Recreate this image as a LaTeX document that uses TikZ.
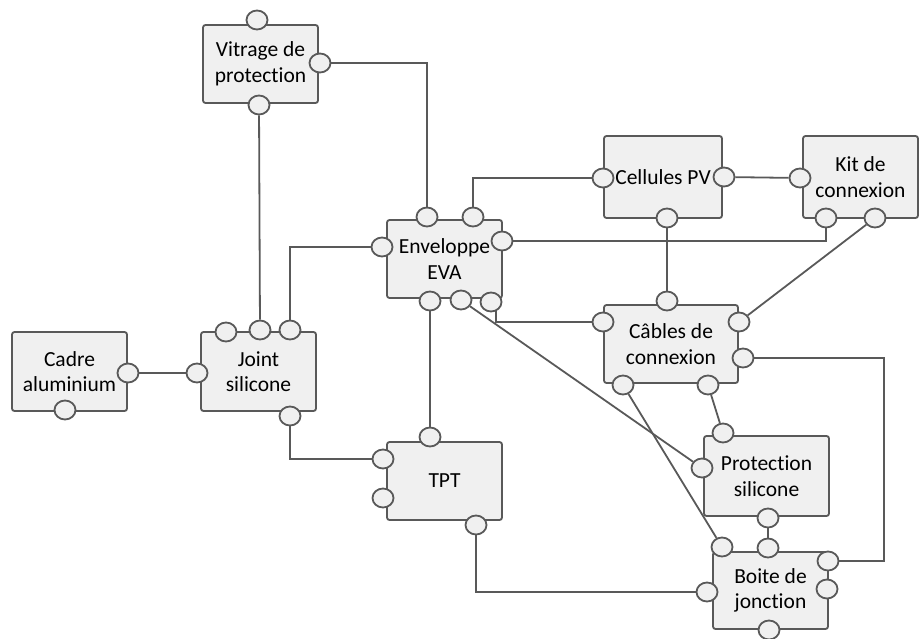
\documentclass[tikz,border=0pt]{standalone}
\usepackage{fontspec}
\setmainfont{Carlito}[Ligatures=NoCommon]
\usepackage{tikz}
\usetikzlibrary{positioning}
\usetikzlibrary{calc}
\usetikzlibrary{shapes.geometric}
\usepackage{xcolor}
\definecolor{boxfill}{HTML}{F0F0F0}
\definecolor{gris}{HTML}{595959}
\newcommand{\nolig}{\kern0pt}
\tikzset{
	x=1pt, y=-1pt,
	every path/.style={line width=1.8pt, gris},
	comp/.style={rectangle, rounded corners=2.5pt, draw=gris, fill=boxfill, align=center, text=black,
		font=\fontsize{21.5}{25.5}\selectfont, minimum width=115pt, minimum height=78pt, inner sep=0pt},
	port/.style={ellipse, draw=gris, fill=boxfill, minimum width=21pt, minimum height=19pt, inner sep=0pt, node contents={}},
	link/.style={gris, line width=1.8pt}
}

\begin{document}
\begin{tikzpicture}
				\useasboundingbox (0,0) rectangle (920,639);
				% Composants
				\node[comp] (1) at (260.5, 64) {Vitrage de\\protect\nolig ion};
				\node[comp] (2) at (444.5, 259) {Enveloppe\\EVA};
				\node[comp, minimum width=118pt, minimum height=82pt] (3) at (663, 177) {Cellules PV};
				\node[comp, minimum height=82pt] (4) at (860.5, 177) {Kit de\\connexion};
				\node[comp, minimum width=134pt] (5) at (671, 344) {Câbles de\\connexion};
				\node[comp, minimum width=125pt, minimum height=80pt] (6) at (766.5, 476) {Protect\nolig ion\\silicone};
				\node[comp, minimum height=77pt] (7) at (770.5, 590.5) {Boite de\\jonct\nolig ion};
				\node[comp] (8) at (444.5, 481) {TPT};
				\node[comp, minimum height=79pt] (9) at (258.5, 371.5) {Joint\\silicone};
				\node[comp, minimum height=79pt] (10) at (69.5, 371.5) {Cadre\\aluminium};
				
				% Ports
				\node (1t) at (257, 20) [port];
				\node (1r) at (320, 63) [port];
				\node (1b) at (259, 105) [port];
				\node (2t1) at (427, 217) [port];
				\node (2t2) at (473, 217) [port];
				\node (2l) at (382, 247) [port];
				\node (2r) at (502, 241) [port];
				\node (2b1) at (430, 301) [port];
				\node (2b2) at (461, 300) [port];
				\node (2b3) at (491, 302) [port];
				\node (3l) at (603, 178) [port];
				\node (3r) at (724, 177) [port];
				\node (3b) at (667, 218) [port];
				\node (4l) at (800, 178) [port];
				\node (4b1) at (826, 218) [port];
				\node (4b2) at (875, 218) [port];
				\node (5t) at (667, 301) [port];
				\node (5l) at (603, 322) [port];
				\node (5r1) at (739, 322) [port];
				\node (5r2) at (743, 358) [port];
				\node (5b1) at (623, 385) [port];
				\node (5b2) at (708, 385) [port];
				\node (6t) at (723, 433) [port];
				\node (6l) at (702, 468) [port];
				\node (6b) at (768, 518) [port];
				\node (7t1) at (722, 547) [port];
				\node (7t2) at (768, 548) [port];
				\node (7r1) at (828, 561) [port];
				\node (7r2) at (827, 589) [port];
				\node (7l) at (707, 592) [port];
				\node (7b) at (769, 630) [port];
				\node (8t) at (430, 437) [port];
				\node (8l1) at (383, 459) [port];
				\node (8l2) at (383, 498) [port];
				\node (8b) at (476, 525) [port];
				\node (9t1) at (226, 332) [port];
				\node (9t2) at (260, 330) [port];
				\node (9t3) at (290, 330) [port];
				\node (9l) at (197, 373) [port];
				\node (9b) at (290, 416) [port];
				\node (10r) at (128, 373) [port];
				\node (10b) at (65, 410) [port];
				\coordinate (k) at (884, 0);
				
				% Liaisons
				\draw[link] (1b) -- (9t2);
				\draw[link] (1r) -| (2t1);
				\draw[link] (2t2) |- (3l);
				\draw[link] (2l) -| (9t3);
				\draw[link] (2r) -| (4b1);
				\draw[link] (2b3.-60) |- (5l);
				\draw[link] (2b2) -- (6l);
				\draw[link] (2b1) -- (8t);
				\draw[link] (3r) -- (4l);
				\draw[link] (3b) -- (5t);
				\draw[link] (4b2) -- (5r1);
				\draw[link] (5r2) -- (5r2 -| k) -- (k |- 7r1) -- (7r1);
				\draw[link] (5b1) -- (7t1);
				\draw[link] (5b2) -- (6t);
				\draw[link] (6b) -- (7t2);
				\draw[link] (9b) |- (8l1);
				\draw[link] (8b) |- (7l);
				\draw[link] (10r) -- (9l);
				
			\end{tikzpicture}
\end{document}
